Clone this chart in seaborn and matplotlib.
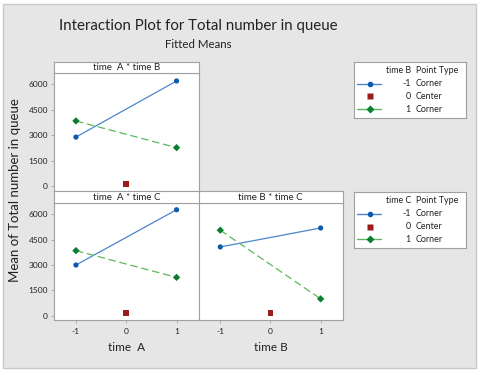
import pandas as pd
import matplotlib.pyplot as plt
import seaborn as sns
from matplotlib.patches import Rectangle

sns.set_theme(style="white")
plt.rcParams['font.family'] = ['Lato', 'DejaVu Sans']

# fitted means
levels = [-1, 1]
ab_low = [2900, 6200]    # time B = -1
ab_high = [3850, 2280]   # time B = 1
ac_low = [3000, 6270]    # time C = -1
ac_high = [3850, 2270]   # time C = 1
bc_low = [4070, 5190]    # time C = -1
bc_high = [5060, 1000]   # time C = 1
center_ab = 130
center_ac = 150
center_bc = 150
yticks = [0, 1500, 3000, 4500, 6000]

W, H = 480, 372
BLUE_LINE = '#4a86cc'
BLUE_MARK = '#0b5aad'
GREEN_LINE = '#5cb85c'
GREEN_MARK = '#0a7d32'
RED = '#9b1c1c'
TXT = '#222222'


def box(x0, y0, x1, y1):
    return [x0 / W, 1 - y1 / H, (x1 - x0) / W, (y1 - y0) / H]


def make_df(low, high):
    return pd.DataFrame({
        'x': levels * 2,
        'y': low + high,
        'lvl': ['-1', '-1', '1', '1'],
    })


fig = plt.figure(figsize=(4.8, 3.72), dpi=100)
fig.patch.set_facecolor('white')
fig.add_artist(Rectangle((3 / W, 4 / H), 473 / W, 364 / H, transform=fig.transFigure,
                         facecolor='#e6e6e6', edgecolor='#c8c8c8', lw=1, zorder=-1))

fig.text(198 / W, 1 - 26 / H, 'Interaction Plot for Total number in queue',
         ha='center', va='center', fontsize=10.8, color=TXT)
fig.text(198 / W, 1 - 44 / H, 'Fitted Means', ha='center', va='center', fontsize=8.3, color=TXT)
fig.text(15 / W, 1 - 190 / H, 'Mean of Total number in queue',
         rotation=90, ha='center', va='center', fontsize=9.5, color=TXT)

panels = [
    ((54.3, 73.3, 198.7, 190.7), 'time  A * time B', ab_low, ab_high, center_ab, True, False, None),
    ((54.3, 203.3, 198.7, 320), 'time  A * time C', ac_low, ac_high, center_ac, True, True, 'time  A'),
    ((198.7, 203.3, 342.7, 320), 'time B * time C', bc_low, bc_high, center_bc, False, True, 'time B'),
]

for (x0, y0, x1, y1), strip, low, high, cen, show_y, show_x, xlab in panels:
    ax = fig.add_axes(box(x0, y0, x1, y1))
    df = make_df(low, high)
    sns.lineplot(data=df, x='x', y='y', hue='lvl', style='lvl',
                 palette={'-1': BLUE_LINE, '1': GREEN_LINE},
                 dashes={'-1': '', '1': (6, 3)}, lw=0.9, legend=False, ax=ax)
    sns.scatterplot(data=df, x='x', y='y', hue='lvl', style='lvl',
                    palette={'-1': BLUE_MARK, '1': GREEN_MARK},
                    markers={'-1': 'o', '1': 'D'}, s=14, edgecolor='none',
                    legend=False, ax=ax, zorder=3)
    sns.scatterplot(x=[0], y=[cen], marker='s', color=RED, s=18, edgecolor='none', ax=ax, zorder=3)
    ax.set_xlim(-1.43, 1.44)
    ax.set_ylim(-250, 6650)
    ax.set_xlabel('')
    ax.set_ylabel('')
    ax.set_facecolor('white')
    for sp in ax.spines.values():
        sp.set_color('#a0a0a0')
        sp.set_linewidth(0.8)
    if show_y:
        ax.set_yticks(yticks)
        ax.set_yticklabels([str(t) for t in yticks], fontsize=6, color=TXT)
        ax.tick_params(axis='y', left=True, length=2.5, width=0.6, color='#a0a0a0', pad=2)
    else:
        ax.set_yticks([])
    if show_x:
        ax.set_xticks([-1, 0, 1])
        ax.set_xticklabels(['-1', '0', '1'], fontsize=6, color=TXT)
        ax.tick_params(axis='x', bottom=True, length=2.5, width=0.6, color='#a0a0a0', pad=3)
        ax.set_xlabel(xlab, fontsize=8.5, labelpad=5, color=TXT)
    else:
        ax.set_xticks([])

    sax = fig.add_axes(box(x0, y0 - 11.6 if y0 < 100 else y0 - 12.6, x1, y0))
    sax.set_facecolor('white')
    sax.set_xticks([])
    sax.set_yticks([])
    for sp in sax.spines.values():
        sp.set_color('#a0a0a0')
        sp.set_linewidth(0.8)
    sax.text(0.5, 0.5, strip, ha='center', va='center', fontsize=7, color=TXT,
             transform=sax.transAxes)

# legends
for top, var in [(62, 'time B'), (192, 'time C')]:
    lax = fig.add_axes(box(354, top, 465.5, top + 55.5))
    lax.set_xlim(354, 465.5)
    lax.set_ylim(top + 55.5, top)
    lax.set_xticks([])
    lax.set_yticks([])
    lax.set_facecolor('white')
    for sp in lax.spines.values():
        sp.set_color('#a0a0a0')
        sp.set_linewidth(0.8)
    lax.text(411, top + 8.7, var, ha='right', va='center', fontsize=6.4, color=TXT)
    lax.text(416, top + 8.7, 'Point Type', ha='left', va='center', fontsize=6.4, color=TXT)
    rows = [('-1', 'Corner', BLUE_LINE, BLUE_MARK, 'o'),
            ('0', 'Center', None, RED, 's'),
            ('1', 'Corner', GREEN_LINE, GREEN_MARK, 'D')]
    for i, (lv, pt, lc, mc, mk) in enumerate(rows):
        yy = top + 21.7 + i * 12.8
        if lc:
            lax.plot([356.7, 380.7], [yy, yy], color=lc, lw=1)
        lax.plot([369.7], [yy], marker=mk, color=mc, ms=4 if mk != 's' else 4.5, mec='none')
        lax.text(411, yy, lv, ha='right', va='center', fontsize=6.4, color=TXT)
        lax.text(416, yy, pt, ha='left', va='center', fontsize=6.4, color=TXT)

plt.savefig('out.png', dpi=100)
